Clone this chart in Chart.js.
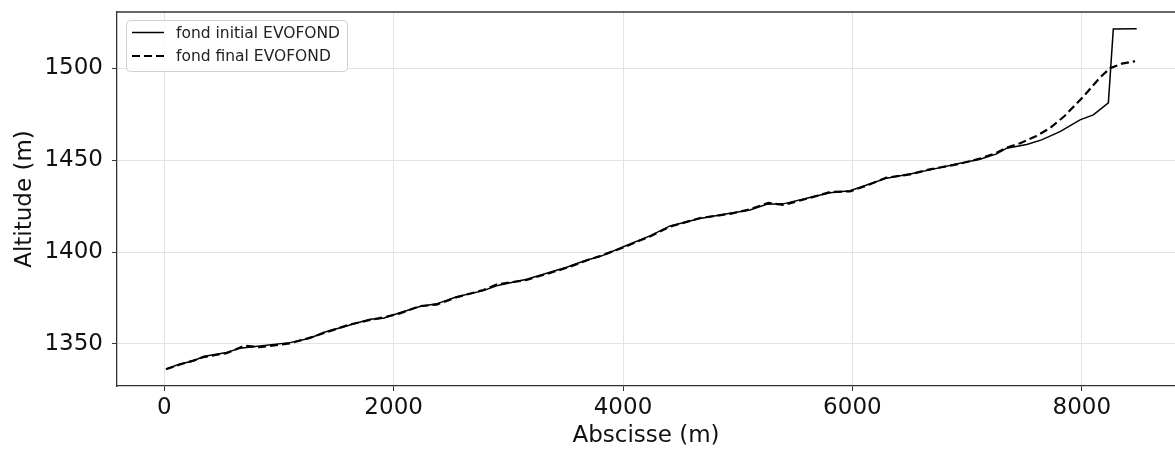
<!DOCTYPE html>
<html>
<head>
<meta charset="utf-8">
<script src="https://cdn.jsdelivr.net/npm/chart.js@4"></script>
<style>
html, body { margin: 0; padding: 0; background: #fff; }
</style>
</head>
<body>
<canvas id="profil" width="1175" height="450"></canvas>
<script>
// profil en long : fond initial / fond final
var xInitial = [15, 137, 253, 340, 544, 660, 834, 1096, 1271, 1387, 1619, 1794, 1910, 2055, 2229, 2375, 2550, 2782, 2898, 3160, 3509, 3683, 3799, 4003, 4235, 4410, 4672, 4933, 5107, 5253, 5398, 5602, 5805, 5979, 6125, 6299, 6502, 6676, 6938, 7112, 7258, 7346, 7520, 7650, 7810, 7985, 8101, 8232, 8275, 8479];
var yInitial = [1336.4, 1339.1, 1340.7, 1343.1, 1345.3, 1347.7, 1348.9, 1350.7, 1353.1, 1356.2, 1360.3, 1363.4, 1364.0, 1367.0, 1370.3, 1371.8, 1375.7, 1379.0, 1381.6, 1385.2, 1391.7, 1395.7, 1397.5, 1402.9, 1408.8, 1414.2, 1418.2, 1421.1, 1422.9, 1426.0, 1426.2, 1429.3, 1432.3, 1433.4, 1436.5, 1440.2, 1442.5, 1444.7, 1448.3, 1450.5, 1453.4, 1456.5, 1458.5, 1461.0, 1465.5, 1471.9, 1474.6, 1481.2, 1521.3, 1521.5];

var xFinal = [15, 137, 253, 340, 544, 700, 834, 1096, 1271, 1387, 1619, 1794, 1910, 2055, 2229, 2375, 2550, 2782, 2900, 3160, 3509, 3683, 3799, 4003, 4235, 4410, 4672, 4933, 5107, 5270, 5398, 5602, 5805, 5979, 6125, 6299, 6502, 6676, 6938, 7112, 7258, 7346, 7462, 7600, 7724, 7850, 8013, 8159, 8246, 8350, 8465];
var yFinal = [1336.2, 1338.8, 1340.9, 1342.8, 1345.0, 1349.0, 1348.2, 1350.3, 1353.4, 1355.8, 1360.6, 1363.0, 1364.4, 1366.6, 1370.6, 1371.4, 1375.4, 1379.3, 1382.4, 1384.8, 1391.4, 1395.4, 1397.8, 1402.5, 1408.5, 1413.8, 1418.5, 1420.8, 1423.2, 1426.8, 1425.6, 1429.0, 1432.6, 1433.0, 1436.2, 1440.5, 1442.2, 1445.0, 1448.0, 1450.8, 1454.0, 1456.8, 1459.2, 1463.0, 1467.5, 1474.0, 1484.5, 1495.0, 1500.0, 1502.5, 1503.8];

var xTicks = [0, 2000, 4000, 6000, 8000];
var yTicks = [1350, 1400, 1450, 1500];
var labels = ["fond initial EVOFOND", "fond final EVOFOND"];

function toPoints(xs, ys) {
	var pts = [];
	for (var i = 0; i < xs.length; i++) {
		pts.push({ x: xs[i], y: ys[i] });
	}
	return pts;
}

var FONT = "'DejaVu Sans', sans-serif";
var spine = "#333333";
var gridColor = "#e3e3e3";

// cadre du haut + legende facon matplotlib
var cadre = {
	id: "cadre",
	afterDraw: function (chart) {
		var ctx = chart.ctx;
		var a = chart.chartArea;
		ctx.save();
		ctx.strokeStyle = spine;
		ctx.lineWidth = 1.3;
		ctx.beginPath();
		ctx.moveTo(a.left, a.top);
		ctx.lineTo(a.right, a.top);
		ctx.stroke();

		// legende
		var x0 = 126, y0 = 20, w = 221, h = 51, r = 4;
		ctx.fillStyle = "rgba(255,255,255,0.85)";
		ctx.strokeStyle = "#d0d0d0";
		ctx.lineWidth = 1;
		ctx.beginPath();
		ctx.roundRect(x0 + 0.5, y0 + 0.5, w, h, r);
		ctx.fill();
		ctx.stroke();

		ctx.font = "15.5px " + FONT;
		ctx.textBaseline = "middle";
		ctx.textAlign = "left";
		var rows = [32.5, 56];
		chart.data.datasets.forEach(function (ds, i) {
			ctx.strokeStyle = "#000";
			ctx.lineWidth = ds.borderWidth;
			ctx.setLineDash(ds.borderDash || []);
			ctx.beginPath();
			ctx.moveTo(132, rows[i]);
			ctx.lineTo(164, rows[i]);
			ctx.stroke();
			ctx.setLineDash([]);
			ctx.fillStyle = "#222";
			ctx.fillText(ds.label, 176, rows[i] + 1);
		});
		ctx.restore();
	}
};

var ctx = document.getElementById("profil").getContext("2d");
var chart = new Chart(ctx, {
	type: "line",
	data: {
		datasets: [
			{
				label: labels[0],
				data: toPoints(xInitial, yInitial),
				borderColor: "#000",
				borderWidth: 1.5,
				pointRadius: 0,
				tension: 0,
				fill: false,
			},
			{
				label: labels[1],
				data: toPoints(xFinal, yFinal),
				borderColor: "#000",
				borderWidth: 2.2,
				borderDash: [8, 4],
				pointRadius: 0,
				tension: 0,
				fill: false,
			},
		],
	},
	options: {
		responsive: false,
		animation: false,
		devicePixelRatio: 1,
		layout: { padding: { top: 12, left: 0, right: 0, bottom: 0 } },
		plugins: {
			legend: { display: false },
			tooltip: { enabled: false },
		},
		scales: {
			x: {
				type: "linear",
				min: -412,
				max: 8813,
				afterFit: function (s) {
					s.height = 64;
					s.paddingLeft = 0;
					s.paddingRight = 0;
				},
				afterBuildTicks: function (s) {
					s.ticks = xTicks.map(function (v) { return { value: v }; });
				},
				border: { color: spine, width: 1.3 },
				grid: { color: gridColor, lineWidth: 1, tickColor: spine, tickLength: 5 },
				ticks: {
					color: "#111",
					font: { family: FONT, size: 23 },
					padding: 3,
					maxRotation: 0,
					callback: function (v) { return String(v); },
				},
				title: {
					display: true,
					text: "Abscisse (m)",
					color: "#111",
					font: { family: FONT, size: 23, lineHeight: 1.2 },
					padding: { top: 0, bottom: 0 },
				},
			},
			y: {
				type: "linear",
				min: 1327.1,
				max: 1530.6,
				afterFit: function (s) {
					s.width = 117;
					s.paddingTop = 0;
					s.paddingBottom = 0;
				},
				afterBuildTicks: function (s) {
					s.ticks = yTicks.map(function (v) { return { value: v }; });
				},
				border: { color: spine, width: 1.3 },
				grid: { color: gridColor, lineWidth: 1, tickColor: spine, tickLength: 5 },
				ticks: {
					color: "#111",
					font: { family: FONT, size: 23 },
					padding: 9,
					callback: function (v) { return String(v); },
				},
				title: {
					display: true,
					text: "Altitude (m)",
					color: "#111",
					font: { family: FONT, size: 23, lineHeight: 1.2 },
					padding: { top: 11, bottom: 0 },
				},
			},
		},
	},
	plugins: [cadre],
});
</script>
</body>
</html>
